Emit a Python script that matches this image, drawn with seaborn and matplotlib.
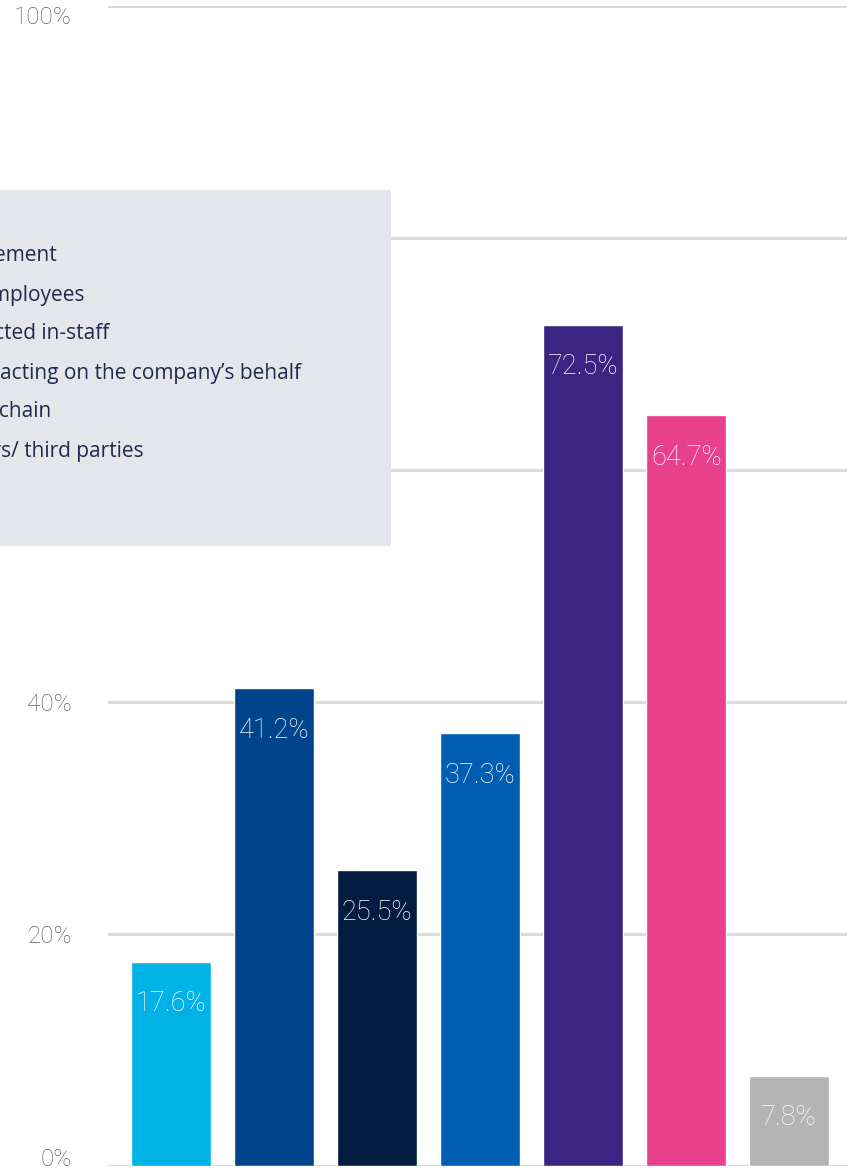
import matplotlib
matplotlib.use("Agg")
import matplotlib.pyplot as plt
from matplotlib.patches import Rectangle
import seaborn as sns
import pandas as pd

# Share of respondents by group covered
categories = [
    "Board",
    "Management",
    "Core employees",
    "Contracted in-staff",
    "Agents acting on the company\u2019s behalf",
    "Supply chain",
    "Partners/ third parties",
]
values = [17.6, 41.2, 25.5, 37.3, 72.5, 64.7, 7.8]
colors = ["#00b2e5", "#00458c", "#041c40", "#005eb2", "#3c2582", "#e8408c", "#b4b4b4"]
y_ticks = [0, 20, 40, 60, 80, 100]
y_tick_labels = ["0%", "20%", "40%", "60%", "80%", "100%"]

# Legend lines shown in the panel
legend_labels = [
    "Management",
    "Core employees",
    "Contracted in-staff",
    "Agents acting on the company\u2019s behalf",
    "Supply chain",
    "Partners/ third parties",
]

df = pd.DataFrame({"group": categories, "share": values})

sns.set_theme(style="white")
plt.rcParams["font.family"] = ["Roboto", "DejaVu Sans"]

W, H = 852, 1171
fig = plt.figure(figsize=(W / 100, H / 100), dpi=100)
fig.patch.set_facecolor("white")
ax = fig.add_axes([108 / W, 5 / H, 739 / W, 1160 / H])
ax.set_facecolor("white")

ax.set_axisbelow(True)
for t in y_ticks:
    ax.axhline(t, color="#dadada", lw=2.2, zorder=0)

sns.barplot(data=df, x="group", y="share", hue="group", palette=colors,
            legend=False, width=0.78, saturation=1, ax=ax, zorder=2)

for i, v in enumerate(values):
    ax.annotate(f"{v}%", xy=(i, v), xytext=(0, -42), textcoords="offset pixels",
                ha="center", va="center", color="white", fontsize=19.5,
                fontweight="light", zorder=3)

ax.set_ylim(0, 100)
ax.set_xlim(-0.61, 6.56)
ax.set_yticks(y_ticks)
ax.set_yticklabels(y_tick_labels, color="#606060", fontsize=17.5, fontweight="light")
ticklabels = ax.get_yticklabels()
ticklabels[0].set_va("baseline")
ticklabels[-1].set_va("top")
ax.set_xticks([])
ax.tick_params(axis="y", length=0, pad=26)
ax.set_xlabel("")
ax.set_ylabel("")
for s in ax.spines.values():
    s.set_visible(False)

# Legend panel over the upper-left part of the chart
panel = Rectangle((-20 / W, 1 - 546 / H), 411 / W, 356 / H, transform=fig.transFigure,
                  facecolor="#e5e6eb", edgecolor="none", zorder=10)
fig.add_artist(panel)
text_x = -72
for k, lab in enumerate(legend_labels):
    y = 256 + k * 39
    fig.text(text_x / W, 1 - y / H, lab, ha="left", va="center",
             color="#1f2b4d", fontsize=15, family=["Open Sans", "DejaVu Sans"],
             zorder=11)

fig.savefig("out.png", dpi=100)
